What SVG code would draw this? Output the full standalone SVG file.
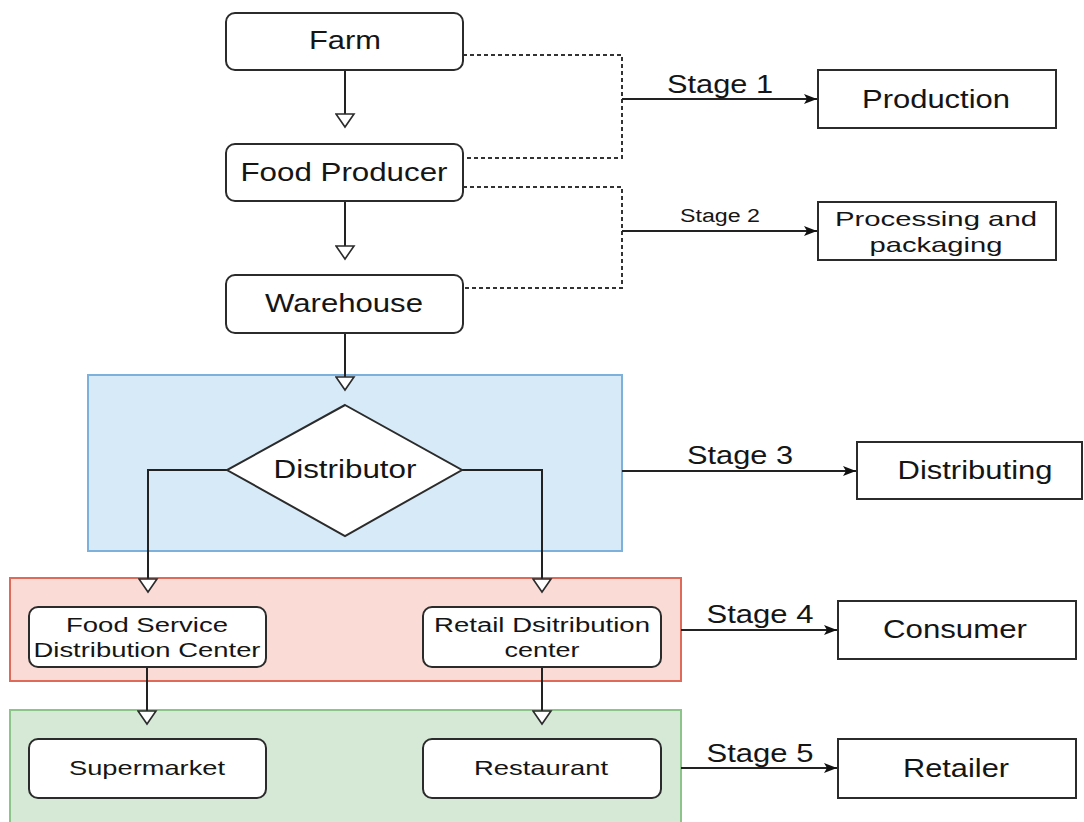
<svg xmlns="http://www.w3.org/2000/svg" width="1084" height="822" viewBox="0 0 1084 822">
<style>
text{font-family:"Liberation Sans",Arial,sans-serif;fill:#151515;text-anchor:middle}
.node{fill:#fff;stroke:#2b2b2b;stroke-width:2}
.box{fill:#fff;stroke:#2b2b2b;stroke-width:2}
.ln{fill:none;stroke:#222;stroke-width:2}
.dash{fill:none;stroke:#333;stroke-width:2;stroke-dasharray:4 3}
.big{font-size:25px}
.mid{font-size:21px}
.sm{font-size:19.5px}
</style>
<defs>
<marker id="hollow" markerWidth="22" markerHeight="16" refX="10" refY="14" orient="0" markerUnits="userSpaceOnUse">
<path d="M1,1 L19,1 L10,14 Z" fill="#fff" stroke="#2b2b2b" stroke-width="1.6"/>
</marker>
<marker id="solid" markerWidth="14" markerHeight="12" refX="13" refY="6" orient="auto" markerUnits="userSpaceOnUse">
<path d="M0,1 L13,6 L0,11 L3,6 Z" fill="#111"/>
</marker>
</defs>
<rect width="1084" height="822" fill="#fff"/>
<g id="groups">
<rect id="stage3-area" x="88" y="375" width="534" height="176" fill="#d6eaf8" stroke="#7eb0dc" stroke-width="2"/>
<rect id="stage4-area" x="10" y="578" width="671" height="103" fill="#fadbd6" stroke="#e06a5a" stroke-width="2"/>
<rect id="stage5-area" x="10" y="710" width="671" height="120" fill="#d5e9d6" stroke="#8cc48a" stroke-width="2"/>
</g>
<g id="connectors">
<path class="ln" d="M345,70 V127" marker-end="url(#hollow)"/>
<path class="ln" d="M345,201 V259" marker-end="url(#hollow)"/>
<path class="ln" d="M345,333 V390" marker-end="url(#hollow)"/>
<path class="ln" d="M227,470 H148 V592" marker-end="url(#hollow)"/>
<path class="ln" d="M462,470 H542 V592" marker-end="url(#hollow)"/>
<path class="ln" d="M147,667 V724" marker-end="url(#hollow)"/>
<path class="ln" d="M542,667 V724" marker-end="url(#hollow)"/>
<path class="dash" d="M463,55 H622 V158 H463"/>
<path class="dash" d="M463,187 H622 V288 H463"/>
<path class="ln" d="M622,99 H817" marker-end="url(#solid)"/>
<path class="ln" d="M622,231 H817" marker-end="url(#solid)"/>
<path class="ln" d="M622,471 H856" marker-end="url(#solid)"/>
<path class="ln" d="M681,630 H837" marker-end="url(#solid)"/>
<path class="ln" d="M681,768 H837" marker-end="url(#solid)"/>
<text class="big" x="720" y="93" textLength="106" lengthAdjust="spacingAndGlyphs">Stage 1</text>
<text x="720" y="222" font-size="18" textLength="80" lengthAdjust="spacingAndGlyphs">Stage 2</text>
<text class="big" x="740" y="464" textLength="106" lengthAdjust="spacingAndGlyphs">Stage 3</text>
<text class="big" x="760" y="623" textLength="107" lengthAdjust="spacingAndGlyphs">Stage 4</text>
<text class="big" x="760" y="762" textLength="107" lengthAdjust="spacingAndGlyphs">Stage 5</text>
</g>
<g id="farm"><rect class="node" x="226" y="13" width="237" height="57" rx="9"/><text class="big" x="345" y="49" textLength="72" lengthAdjust="spacingAndGlyphs">Farm</text></g>
<g id="food-producer"><rect class="node" x="226" y="144" width="237" height="57" rx="9"/><text class="big" x="344" y="181" textLength="207" lengthAdjust="spacingAndGlyphs">Food Producer</text></g>
<g id="warehouse"><rect class="node" x="226" y="275" width="237" height="58" rx="9"/><text class="big" x="344" y="312" textLength="158" lengthAdjust="spacingAndGlyphs">Warehouse</text></g>
<g id="distributor"><path class="node" d="M345,405 L462,470 L345,536 L227,470 Z"/><text class="big" x="345" y="478" textLength="143" lengthAdjust="spacingAndGlyphs">Distributor</text></g>
<g id="food-service"><rect class="node" x="29" y="607" width="237" height="60" rx="9"/><text class="sm" x="147" y="632" textLength="162" lengthAdjust="spacingAndGlyphs">Food Service</text><text class="sm" x="147" y="657" textLength="227" lengthAdjust="spacingAndGlyphs">Distribution Center</text></g>
<g id="retail-dc"><rect class="node" x="423" y="607" width="238" height="60" rx="9"/><text class="sm" x="542" y="632" textLength="216" lengthAdjust="spacingAndGlyphs">Retail Dsitribution</text><text class="sm" x="542" y="657" textLength="75" lengthAdjust="spacingAndGlyphs">center</text></g>
<g id="supermarket"><rect class="node" x="29" y="739" width="237" height="59" rx="9"/><text class="mid" x="147" y="775" textLength="156" lengthAdjust="spacingAndGlyphs">Supermarket</text></g>
<g id="restaurant"><rect class="node" x="423" y="739" width="238" height="59" rx="9"/><text class="mid" x="541" y="775" textLength="134" lengthAdjust="spacingAndGlyphs">Restaurant</text></g>
<g id="production"><rect class="box" x="818" y="70" width="238" height="58"/><text class="big" x="936" y="108" textLength="148" lengthAdjust="spacingAndGlyphs">Production</text></g>
<g id="processing"><rect class="box" x="818" y="202" width="238" height="58"/><text class="mid" x="936" y="226" textLength="202" lengthAdjust="spacingAndGlyphs">Processing and</text><text class="mid" x="936" y="252" textLength="133" lengthAdjust="spacingAndGlyphs">packaging</text></g>
<g id="distributing"><rect class="box" x="857" y="442" width="225" height="57"/><text class="big" x="975" y="479" textLength="155" lengthAdjust="spacingAndGlyphs">Distributing</text></g>
<g id="consumer"><rect class="box" x="838" y="601" width="238" height="58"/><text class="big" x="955" y="638" textLength="144" lengthAdjust="spacingAndGlyphs">Consumer</text></g>
<g id="retailer"><rect class="box" x="838" y="739" width="238" height="59"/><text class="big" x="956" y="777" textLength="106" lengthAdjust="spacingAndGlyphs">Retailer</text></g>
</svg>
